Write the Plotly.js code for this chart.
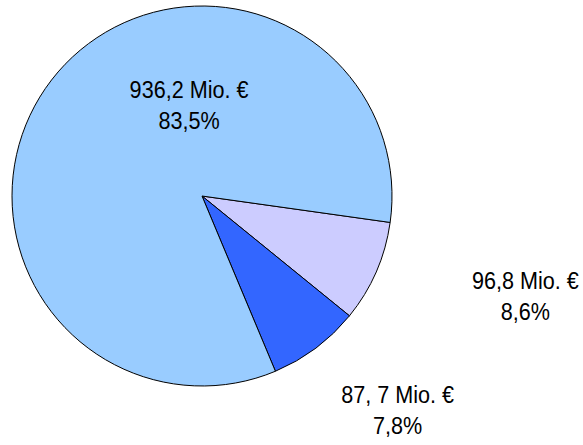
<!DOCTYPE html>
<html>
<head>
<meta charset="utf-8">
<script src="https://cdn.plot.ly/plotly-3.0.1.min.js"></script>
<style>
html,body{margin:0;padding:0;background:#fff;}
#chart{width:583px;height:445px;}
#chart .annotation-text{transform-box:fill-box;transform-origin:center;transform:scaleX(0.9);}
</style>
</head>
<body>
<div id="chart"></div>
<script>
const categories = ["A", "B", "C"];
const values = [96.8, 87.7, 936.2];
const amountLabels = ["96,8 Mio. €", "87, 7 Mio. €", "936,2 Mio. €"];
const percentLabels = ["8,6%", "7,8%", "83,5%"];
const colors = ["#CCCCFF", "#3366FF", "#99CCFF"];

const FONT = "'Liberation Sans Narrow', 'Arial Narrow', 'Liberation Sans', Arial, sans-serif";
const W = 583, H = 445;
const cx = 202, cy = 196, R = 190;

const trace = {
  type: "pie",
  values: values,
  labels: categories,
  sort: false,
  direction: "clockwise",
  rotation: 98,
  marker: {colors: colors, line: {color: "#000000", width: 1}},
  textinfo: "none",
  hoverinfo: "none",
  showlegend: false,
  domain: {x: [(cx - R) / W, (cx + R) / W], y: [(H - cy - R) / H, (H - cy + R) / H]}
};

const labelPos = [[525, 296], [398, 410], [189, 105]];
const annotations = values.map((v, i) => ({
  xref: "paper", yref: "paper",
  x: labelPos[i][0] / W, y: 1 - labelPos[i][1] / H,
  xanchor: "center", yanchor: "middle",
  text: amountLabels[i] + "<br>" + percentLabels[i],
  showarrow: false,
  font: {family: FONT, size: 24, color: "#000000"}
}));

const layout = {
  width: W, height: H,
  margin: {l: 0, r: 0, t: 0, b: 0},
  paper_bgcolor: "#ffffff",
  annotations: annotations
};

Plotly.newPlot("chart", [trace], layout, {displayModeBar: false, staticPlot: true});
</script>
</body>
</html>
